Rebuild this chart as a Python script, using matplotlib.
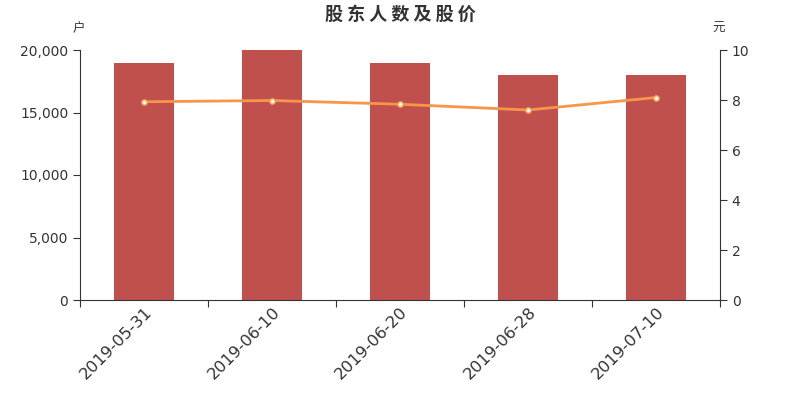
import numpy as np
import matplotlib as mpl
from matplotlib import pyplot as plt
from matplotlib.ticker import FuncFormatter

plt.rcParams['font.family'] = ['DejaVu Sans']
cjk = ['Noto Sans CJK SC', 'DejaVu Sans']

dates = ['2019-05-31', '2019-06-10', '2019-06-20', '2019-06-28', '2019-07-10']
holders = [19000, 20000, 19000, 18000, 18000]
price = [7.93, 7.98, 7.83, 7.6, 8.1]

txt = '#333333'
fig = plt.figure(figsize=(8, 4), dpi=100)
ax = fig.add_axes([0.1, 0.25, 0.8, 0.625])
x = np.arange(len(dates))

ax.bar(x, holders, width=0.47, color='#c0504d', zorder=2)
ax.set_xlim(-0.5, len(dates) - 0.5)
ax.set_ylim(0, 20000)
ax.set_yticks([0, 5000, 10000, 15000, 20000])
ax.yaxis.set_major_formatter(FuncFormatter(lambda v, p: '{:,.0f}'.format(v)))

# ticks on category boundaries, labels at centres
ax.set_xticks(np.arange(-0.5, len(dates), 1.0))
ax.set_xticklabels([])
ax.set_xticks(x, minor=True)
ax.set_xticklabels(dates, minor=True, rotation=45, ha='right',
                   rotation_mode='anchor', fontsize=11.8, color=txt)
ax.tick_params(axis='x', which='minor', length=0, pad=3)
ax.tick_params(axis='x', which='major', length=5, color=txt)
ax.tick_params(axis='y', length=5, labelsize=10, colors=txt)
ax.spines['top'].set_visible(False)
ax.spines['right'].set_visible(False)
for s in ['left', 'bottom']:
    ax.spines[s].set_color(txt)

ax2 = ax.twinx()
ax2.plot(x, price, color='#f79646', lw=2, marker='o', ms=4,
         mfc='white', mec='#f79646', mew=1, zorder=3)
ax2.set_ylim(0, 10)
ax2.set_yticks([0, 2, 4, 6, 8, 10])
ax2.tick_params(axis='y', length=5, labelsize=10, colors=txt)
ax2.spines['top'].set_visible(False)
ax2.spines['left'].set_visible(False)
ax2.spines['bottom'].set_visible(False)
ax2.spines['right'].set_color(txt)

fig.text(0.5, 0.965, '股 东 人 数 及 股 价', ha='center', va='center',
         fontsize=13, fontweight='bold', color=txt, family=cjk)
fig.text(0.098, 0.928, '户', ha='center', va='center', fontsize=9,
         color=txt, family=cjk)
fig.text(0.898, 0.928, '元', ha='center', va='center', fontsize=9,
         color=txt, family=cjk)

plt.savefig('out.png')
